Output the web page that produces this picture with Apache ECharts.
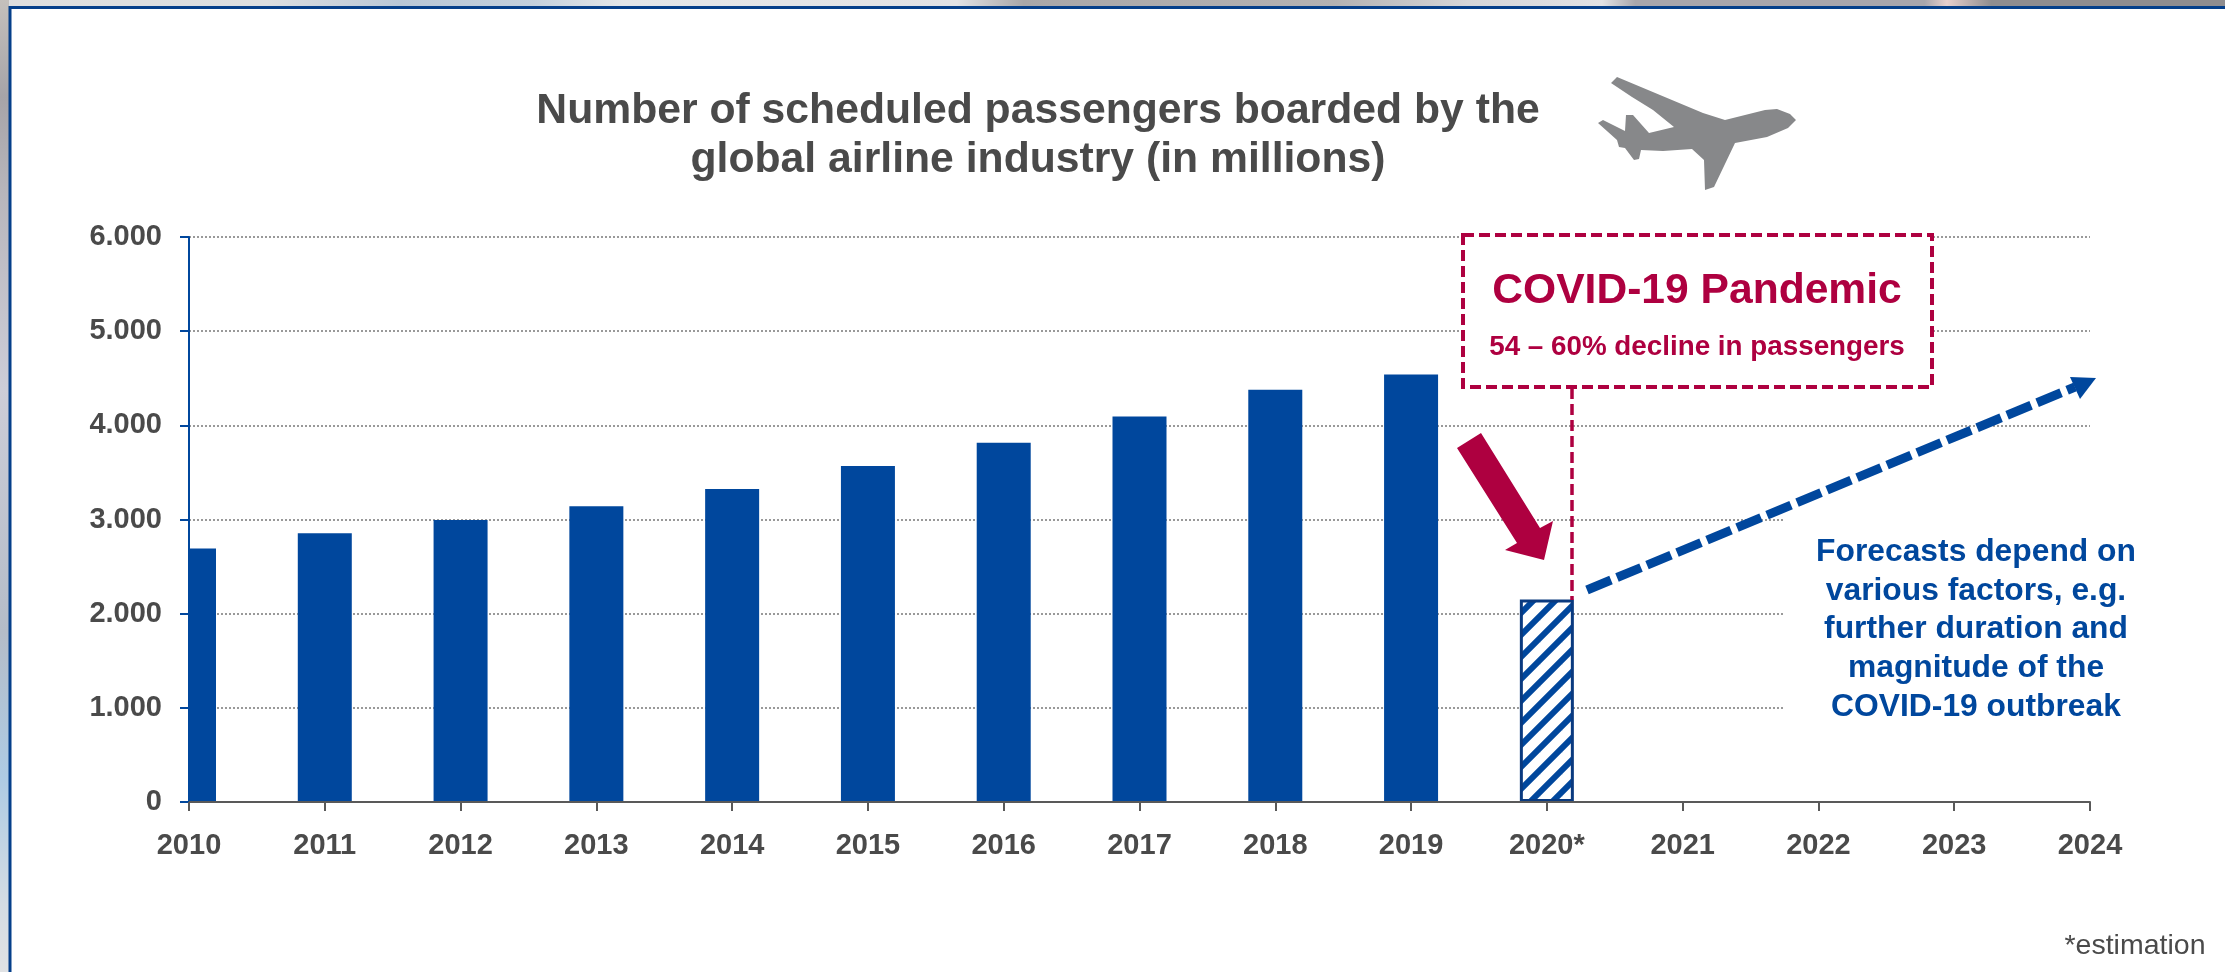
<!DOCTYPE html>
<html>
<head>
<meta charset="utf-8">
<style>
html,body{margin:0;padding:0;background:#fff;overflow:hidden}
#chart{width:2225px;height:972px}
</style>
<script src="https://cdn.jsdelivr.net/npm/echarts@6/dist/echarts.min.js"></script>
</head>
<body>
<div id="chart"></div>
<script>
const years = ['2010','2011','2012','2013','2014','2015','2016','2017','2018','2019','2020*','2021','2022','2023','2024'];
const passengers = [2693,2853,2994,3142,3323,3567,3814,4094,4377,4540,null,null,null,null,null];
const estimate = [null,null,null,null,null,null,null,null,null,null,2150,null,null,null,null];
const titleLines = ['Number of scheduled passengers boarded by the','global airline industry (in millions)'];
const forecastLines = ['Forecasts depend on','various factors, e.g.','further duration and','magnitude of the','COVID-19 outbreak'];

const BLUE='#00479d', RED='#ae0040', GREY='#4a4a4a';

// Diagonal hatch tile for the estimated year
function hatchTile(){
  const s=22,c=document.createElement('canvas');c.width=s;c.height=s;
  const g=c.getContext('2d');
  g.fillStyle='#fff';g.fillRect(0,0,s,s);
  g.strokeStyle=BLUE;g.lineWidth=6;
  [[-s,s,s,-s],[0,s,s,0],[0,2*s,2*s,0]].forEach(l=>{g.beginPath();g.moveTo(l[0],l[1]);g.lineTo(l[2],l[3]);g.stroke();});
  return c;
}

const planeOutline=[[1617,77],[1611,83],[1632,97],[1653,110],[1674,127],[1649,133],[1633,115],[1626,115],[1625,131],[1603,120],[1598,123],[1617,140],[1619,147],[1625,148],[1634,160],[1639,159],[1641,150],[1663,151],[1692,149],[1704,160],[1705,190],[1714,187],[1735,143],[1767,137],[1788,128],[1796,120],[1790,114],[1777,109],[1765,110],[1725,120],[1703,113]];

const textEl=(text,x,y,size,color,weight)=>({type:'text',z:30,style:{text,x,y,fontFamily:'"Liberation Sans"',fontSize:size,fontWeight:weight||'bold',fill:color,align:'center',verticalAlign:'middle'}});

// Soft backdrop colours visible around the white panel
const stops=(list)=>list.map(([offset,color])=>({offset,color}));
const topBand=stops([[0,'#dedede'],[.12,'#dcdee0'],[.18,'#b9c7d6'],[.24,'#c4d0dc'],[.28,'#e4e6e8'],[.43,'#e2e2e4'],[.46,'#a9a7a8'],[.6,'#b4b2b2'],[.66,'#d6d6d8'],[.72,'#e2e2e4'],[.735,'#a8a6ab'],[.865,'#a8a6ac'],[.875,'#e8d0cc'],[.895,'#8f8d8f'],[1,'#8f8d8f']]);
const leftBand=stops([[0,'#c4c0bc'],[.1,'#a6a4a8'],[.2,'#b8b6bc'],[.4,'#cccdd8'],[.65,'#b4bcc8'],[.8,'#aecbe4'],[.93,'#d4dce4'],[1,'#e0e2e4']]);

const chart=echarts.init(document.getElementById('chart'),null,{renderer:'canvas'});
chart.setOption({
  animation:false,
  backgroundColor:'#fff',
  grid:{left:189,right:135,top:237,height:565,containLabel:false},
  xAxis:{type:'category',z:15,data:years,boundaryGap:false,
    axisLine:{lineStyle:{color:'#595959',width:2}},
    axisTick:{show:true,alignWithLabel:true,length:9,lineStyle:{color:'#595959',width:2}},
    axisLabel:{interval:0,margin:29,color:GREY,fontFamily:'"Liberation Sans"',fontWeight:'bold',fontSize:29},
    splitLine:{show:false}},
  yAxis:[
    // gridlines stay underneath the bars
    {type:'value',min:0,max:6000,interval:1000,
      axisLine:{show:false},axisTick:{show:false},axisLabel:{show:false},
      splitLine:{show:true,lineStyle:{color:'#999999',width:2,type:[2,2]}}},
    // the visible axis is drawn above the bars
    {type:'value',z:15,position:'left',min:0,max:6000,interval:1000,
      axisLine:{show:true,onZero:false,lineStyle:{color:BLUE,width:2}},
      axisTick:{show:true,length:9,lineStyle:{color:BLUE,width:2}},
      axisLabel:{margin:27,color:GREY,fontFamily:'"Liberation Sans"',fontWeight:'bold',fontSize:29,
        formatter:v=>v===0?'0':(v/1000)+'.000'},
      splitLine:{show:false}}
  ],
  series:[
    {type:'bar',yAxisIndex:0,data:passengers,barWidth:54,barGap:'-100%',itemStyle:{color:BLUE},z:3},
    {type:'bar',yAxisIndex:0,data:estimate,barWidth:54,barGap:'-100%',
      itemStyle:{color:{image:hatchTile(),repeat:'repeat'},borderColor:'#0a3a7f',borderWidth:3},z:3}
  ],
  graphic:{elements:[
    // the first bar sits on the axis, so its left half is trimmed off
    {type:'rect',z:10,shape:{x:150,y:500,width:39,height:303},style:{fill:'#fff'}},
    // blank area behind the forecast note
    {type:'rect',z:10,shape:{x:1783,y:440,width:320,height:345},style:{fill:'#fff'}},
    // plane icon
    {type:'polygon',z:20,shape:{points:planeOutline},style:{fill:'#87888a'}},
    textEl(titleLines[0],1038,111,42.7,GREY),
    textEl(titleLines[1],1038,160,42.7,GREY),
    // pandemic call-out
    {type:'rect',z:20,shape:{x:1463,y:235,width:469,height:152},style:{fill:'#fff',stroke:RED,lineWidth:4,lineDash:[11,5]}},
    {type:'line',z:20,shape:{x1:1572,y1:388,x2:1572,y2:600},style:{stroke:RED,lineWidth:3.5,lineDash:[11,5]}},
    textEl('COVID-19 Pandemic',1697,291,42.6,RED),
    textEl('54 – 60% decline in passengers',1697,347,27.8,RED),
    // downward arrow towards the estimated bar
    {type:'polygon',z:20,shape:{points:[[1457,448],[1481,433],[1540,528],[1553,521],[1544,560],[1505,550],[1517,543]]},style:{fill:RED}},
    // dashed recovery arrow
    {type:'line',z:20,shape:{x1:1587,y1:590,x2:2075,y2:387},style:{stroke:BLUE,lineWidth:9,lineDash:[26,6.5]}},
    {type:'polygon',z:21,shape:{points:[[2096,378],[2070,377],[2080,399]]},style:{fill:BLUE}},
    ...forecastLines.map((t,i)=>textEl(t,1976,552+i*38.8,31.8,BLUE)),
    textEl('*estimation',2135,946,28.5,GREY,'normal'),
    // backdrop bands and slide frame
    {type:'rect',z:39,shape:{x:0,y:0,width:2225,height:6},style:{fill:new echarts.graphic.LinearGradient(0,0,1,0,topBand)}},
    {type:'rect',z:39,shape:{x:0,y:0,width:9,height:972},style:{fill:new echarts.graphic.LinearGradient(0,0,0,1,leftBand)}},
    {type:'polyline',z:40,shape:{points:[[10,972],[10,7.5],[2225,7.5]]},style:{stroke:'#053f8a',lineWidth:3,fill:'none'}}
  ]}
});
</script>
</body>
</html>
